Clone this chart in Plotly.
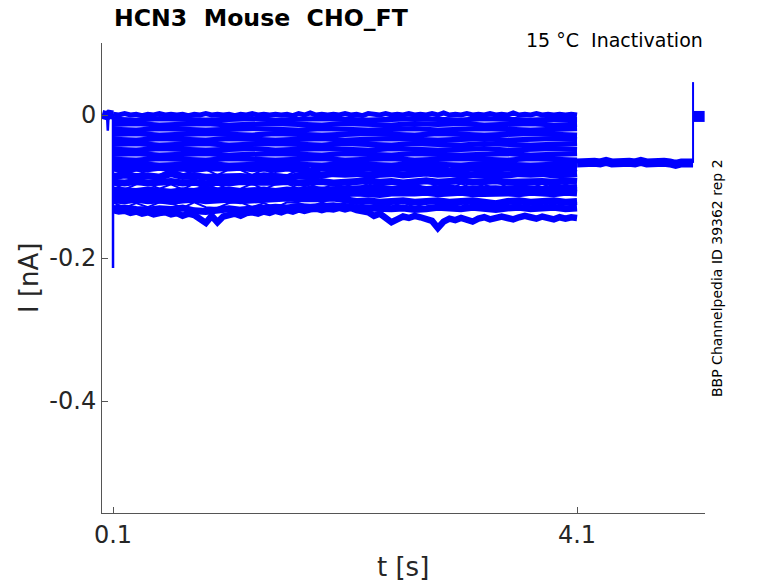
import plotly.graph_objects as go

BLUE = '#0000ff'
AXIS_COLOR = '#555555'

x_tick_vals = [0.1, 4.1]
x_tick_text = ['0.1', '4.1']
y_tick_vals = [0, -0.2, -0.4]
y_tick_text = ['0', '-0.2', '-0.4']

# before the step
t_pre = [0.005, 0.02, 0.035, 0.05, 0.065, 0.08, 0.09, 0.1]
i_pre = [0.001, 0.000, 0.002, -0.001, 0.001, 0.002, 0.000, 0.000]
t_dip = [0.05, 0.055, 0.06]
i_dip = [-0.005, -0.022, -0.005]
t_spike = [0.1, 0.1]
i_spike = [0.0, -0.214]

# time base of the step, every 0.2 s
t_coarse = [0.1, 0.3, 0.5, 0.7, 0.9, 1.1, 1.3, 1.5, 1.7, 1.9, 2.1,
            2.3, 2.5, 2.7, 2.9, 3.1, 3.3, 3.5, 3.7, 3.9, 4.1]

sweep_02 = [-0.006, -0.007, -0.005, -0.006, -0.007, -0.006, -0.005, -0.007, -0.006, -0.005, -0.006,
            -0.007, -0.006, -0.005, -0.006, -0.007, -0.005, -0.006, -0.007, -0.006, -0.006]
sweep_03 = [-0.013, -0.012, -0.014, -0.013, -0.012, -0.014, -0.013, -0.012, -0.013, -0.014, -0.012,
            -0.013, -0.014, -0.012, -0.013, -0.012, -0.014, -0.013, -0.012, -0.014, -0.013]
sweep_04 = [-0.020, -0.021, -0.019, -0.020, -0.021, -0.020, -0.019, -0.020, -0.021, -0.019, -0.020,
            -0.021, -0.020, -0.019, -0.021, -0.020, -0.019, -0.020, -0.021, -0.020, -0.019]
sweep_05 = [-0.027, -0.026, -0.028, -0.027, -0.026, -0.027, -0.028, -0.026, -0.027, -0.028, -0.027,
            -0.026, -0.027, -0.028, -0.026, -0.027, -0.028, -0.027, -0.026, -0.027, -0.028]
sweep_06 = [-0.034, -0.035, -0.033, -0.034, -0.035, -0.033, -0.034, -0.035, -0.034, -0.033, -0.035,
            -0.034, -0.033, -0.034, -0.035, -0.034, -0.033, -0.035, -0.034, -0.033, -0.034]
sweep_07 = [-0.041, -0.040, -0.042, -0.041, -0.040, -0.042, -0.041, -0.040, -0.041, -0.042, -0.040,
            -0.041, -0.042, -0.040, -0.041, -0.042, -0.040, -0.041, -0.042, -0.041, -0.040]
sweep_08 = [-0.048, -0.049, -0.047, -0.048, -0.049, -0.048, -0.047, -0.049, -0.048, -0.047, -0.048,
            -0.049, -0.047, -0.048, -0.049, -0.048, -0.047, -0.049, -0.048, -0.047, -0.048]
sweep_09 = [-0.055, -0.054, -0.056, -0.055, -0.054, -0.056, -0.055, -0.054, -0.055, -0.056, -0.054,
            -0.055, -0.056, -0.054, -0.055, -0.056, -0.055, -0.054, -0.056, -0.055, -0.054]
sweep_10 = [-0.062, -0.063, -0.061, -0.062, -0.063, -0.061, -0.062, -0.063, -0.062, -0.061, -0.063,
            -0.062, -0.061, -0.063, -0.062, -0.061, -0.062, -0.063, -0.061, -0.062, -0.063]
sweep_11 = [-0.069, -0.068, -0.070, -0.069, -0.068, -0.070, -0.069, -0.068, -0.069, -0.070, -0.068,
            -0.069, -0.070, -0.068, -0.069, -0.070, -0.068, -0.069, -0.070, -0.069, -0.068]

# sweeps either side of the pale gaps, every 0.1 s
t_fine = [0.1, 0.2, 0.3, 0.4, 0.5, 0.6, 0.7, 0.8, 0.9, 1.0, 1.1, 1.2, 1.3, 1.4,
          1.5, 1.6, 1.7, 1.8, 1.9, 2.0, 2.1, 2.2, 2.3, 2.4, 2.5, 2.6, 2.7, 2.8,
          2.9, 3.0, 3.1, 3.2, 3.3, 3.4, 3.5, 3.6, 3.7, 3.8, 3.9, 4.0, 4.1]
sweep_12 = [-0.074, -0.076, -0.074, -0.075, -0.073, -0.075, -0.074, -0.076, -0.074, -0.075,
            -0.074, -0.073, -0.075, -0.074, -0.076, -0.074, -0.075, -0.078, -0.074, -0.075,
            -0.076, -0.075, -0.074, -0.076, -0.075, -0.074, -0.076, -0.075, -0.074, -0.078,
            -0.075, -0.074, -0.076, -0.075, -0.074, -0.076, -0.074, -0.075, -0.076, -0.074, -0.075]
sweep_13 = [-0.086, -0.084, -0.086, -0.085, -0.087, -0.082, -0.086, -0.085, -0.087, -0.086,
            -0.085, -0.086, -0.087, -0.085, -0.086, -0.088, -0.085, -0.086, -0.084, -0.082,
            -0.083, -0.082, -0.084, -0.083, -0.082, -0.084, -0.083, -0.081, -0.083, -0.082,
            -0.084, -0.083, -0.082, -0.083, -0.084, -0.082, -0.083, -0.082, -0.084, -0.083, -0.082]
sweep_14 = [-0.094, -0.095, -0.093, -0.095, -0.094, -0.093, -0.095, -0.094, -0.096, -0.094,
            -0.095, -0.093, -0.094, -0.095, -0.094, -0.093, -0.095, -0.094, -0.093, -0.095,
            -0.094, -0.093, -0.092, -0.094, -0.093, -0.095, -0.093, -0.092, -0.094, -0.093,
            -0.092, -0.094, -0.093, -0.092, -0.094, -0.093, -0.092, -0.093, -0.094, -0.092, -0.093]
sweep_15 = [-0.105, -0.106, -0.107, -0.105, -0.106, -0.108, -0.106, -0.107, -0.104, -0.106,
            -0.105, -0.107, -0.106, -0.105, -0.107, -0.105, -0.106, -0.104, -0.105, -0.104,
            -0.103, -0.104, -0.103, -0.102, -0.104, -0.103, -0.102, -0.104, -0.103, -0.102,
            -0.104, -0.103, -0.102, -0.103, -0.104, -0.102, -0.103, -0.104, -0.102, -0.103, -0.102]
sweep_16 = [-0.112, -0.113, -0.111, -0.113, -0.112, -0.111, -0.113, -0.112, -0.114, -0.112,
            -0.111, -0.113, -0.112, -0.111, -0.112, -0.110, -0.111, -0.112, -0.110, -0.111,
            -0.110, -0.109, -0.110, -0.111, -0.109, -0.110, -0.109, -0.108, -0.110, -0.109,
            -0.108, -0.110, -0.109, -0.108, -0.109, -0.110, -0.108, -0.109, -0.110, -0.108, -0.109]
sweep_17 = [-0.119, -0.120, -0.118, -0.120, -0.119, -0.121, -0.119, -0.118, -0.120, -0.119,
            -0.118, -0.120, -0.119, -0.117, -0.118, -0.116, -0.117, -0.118, -0.117, -0.116,
            -0.119, -0.121, -0.120, -0.122, -0.121, -0.120, -0.122, -0.121, -0.120, -0.122,
            -0.121, -0.120, -0.122, -0.124, -0.121, -0.120, -0.122, -0.121, -0.120, -0.122, -0.121]
sweep_18 = [-0.131, -0.130, -0.132, -0.133, -0.131, -0.132, -0.130, -0.134, -0.135, -0.132,
            -0.131, -0.133, -0.131, -0.130, -0.129, -0.130, -0.128, -0.129, -0.128, -0.127,
            -0.129, -0.130, -0.131, -0.132, -0.131, -0.130, -0.132, -0.131, -0.129, -0.130,
            -0.131, -0.129, -0.130, -0.132, -0.130, -0.129, -0.131, -0.130, -0.129, -0.131, -0.130]

# excursions that break up the pale gaps
crossing_1 = [-0.076, -0.084, -0.077, -0.083, -0.084, -0.076, -0.083, -0.078, -0.076, -0.084,
              -0.076, -0.077, -0.084, -0.076, -0.083, -0.084, -0.077, -0.076, -0.083, -0.077,
              -0.084, -0.076, -0.083, -0.077, -0.084, -0.083, -0.076, -0.084, -0.077, -0.083,
              -0.076, -0.077, -0.084, -0.076, -0.083, -0.084, -0.077, -0.083, -0.076, -0.084, -0.077]
crossing_2 = [-0.096, -0.104, -0.097, -0.096, -0.103, -0.097, -0.104, -0.096, -0.103, -0.097,
              -0.104, -0.103, -0.096, -0.104, -0.097, -0.096, -0.103, -0.097, -0.104, -0.096,
              -0.097, -0.103, -0.096, -0.104, -0.103, -0.097, -0.096, -0.103, -0.097, -0.104,
              -0.096, -0.103, -0.097, -0.104, -0.096, -0.097, -0.103, -0.096, -0.104, -0.097, -0.103]
crossing_3 = [-0.122, -0.130, -0.123, -0.129, -0.122, -0.123, -0.130, -0.122, -0.129, -0.130,
              -0.123, -0.122, -0.129, -0.123, -0.130, -0.122, -0.123, -0.129, -0.122, -0.128,
              -0.123, -0.122, -0.129, -0.123, -0.128, -0.122, -0.129, -0.123, -0.122, -0.129,
              -0.123, -0.128, -0.122, -0.123, -0.129, -0.122, -0.128, -0.123, -0.129, -0.122, -0.123]

# edges of the band, every 0.05 s
t_edge = [0.1 + k * 0.05 for k in range(81)]
sweep_01 = [0.001, 0.000, 0.002, 0.000, 0.001, -0.001, 0.001, 0.000, 0.002, 0.000,
            0.001, 0.000, 0.001, -0.001, 0.001, 0.000, 0.002, 0.000, 0.001, 0.000,
            0.001, -0.001, 0.001, 0.000, 0.002, 0.000, 0.001, 0.000, 0.001, 0.000,
            0.001, -0.001, 0.002, 0.000, 0.003, 0.000, 0.001, 0.000, 0.001, 0.000,
            0.002, 0.000, 0.001, -0.001, 0.002, 0.001, 0.000, 0.002, 0.000, 0.001,
            0.000, 0.002, 0.000, 0.001, 0.000, 0.002, 0.000, 0.003, 0.000, 0.001,
            0.000, 0.002, 0.000, 0.001, 0.000, 0.002, 0.000, 0.001, 0.000, 0.003,
            0.000, 0.001, 0.000, 0.002, 0.000, 0.001, 0.000, 0.001, 0.000, 0.001, 0.000]
sweep_19 = [-0.133, -0.135, -0.134, -0.137, -0.135, -0.138, -0.136, -0.139, -0.137, -0.136,
            -0.139, -0.137, -0.141, -0.138, -0.140, -0.145, -0.151, -0.141, -0.150, -0.142,
            -0.140, -0.138, -0.141, -0.137, -0.136, -0.138, -0.135, -0.137, -0.134, -0.136,
            -0.133, -0.135, -0.132, -0.134, -0.132, -0.131, -0.133, -0.131, -0.132, -0.130,
            -0.132, -0.130, -0.133, -0.134, -0.136, -0.141, -0.138, -0.144, -0.150, -0.146,
            -0.142, -0.144, -0.141, -0.143, -0.145, -0.148, -0.158, -0.149, -0.145, -0.147,
            -0.144, -0.146, -0.149, -0.145, -0.143, -0.146, -0.144, -0.142, -0.144, -0.146,
            -0.143, -0.141, -0.143, -0.145, -0.142, -0.144, -0.146, -0.143, -0.145, -0.143, -0.144]

sweeps_coarse = [sweep_02, sweep_03, sweep_04, sweep_05, sweep_06, sweep_07, sweep_08, sweep_09, sweep_10, sweep_11]
sweeps_fine = [sweep_12, sweep_13, sweep_14, sweep_15, sweep_16, sweep_17, sweep_18]
crossings = [crossing_1, crossing_2, crossing_3]

# tail after the step
t_tail = [4.1, 4.15, 4.2, 4.25, 4.3, 4.35, 4.4, 4.45, 4.5, 4.55, 4.6, 4.65, 4.7, 4.75, 4.8, 4.85, 4.9, 4.95, 5.0, 5.05, 5.1]
i_tail = [-0.067, -0.066, -0.068, -0.066, -0.067, -0.065, -0.067, -0.066, -0.068, -0.066, -0.067,
          -0.065, -0.067, -0.066, -0.068, -0.066, -0.067, -0.069, -0.067, -0.066, -0.067]
t_tail_spike = [5.1, 5.1]
i_tail_spike = [-0.067, 0.046]

# back at holding
t_post = [5.1, 5.2]
i_post = [-0.002, -0.002]


fig = go.Figure()


def add_line(t, i, width):
    fig.add_trace(go.Scatter(x=t, y=i, mode='lines', showlegend=False,
                             line=dict(color=BLUE, width=width)))


for sweep in sweeps_coarse:
    add_line(t_coarse, sweep, 5.2)
for sweep in sweeps_fine:
    add_line(t_fine, sweep, 7)
for crossing in crossings:
    add_line(t_fine, crossing, 2)
add_line(t_edge, sweep_01, 5)
add_line(t_edge, sweep_19, 6.5)
add_line(t_pre, i_pre, 9)
add_line(t_dip, i_dip, 2.5)
add_line(t_spike, i_spike, 2.5)
add_line(t_tail, i_tail, 9)
add_line(t_tail_spike, i_tail_spike, 2)
add_line(t_post, i_post, 11)

# the page adds an 8 px body margin, so the plot area sits 8 px in
fig.update_layout(
    width=778, height=583, autosize=False,
    paper_bgcolor='white', plot_bgcolor='white',
    margin=dict(l=94, r=81, t=35, b=78),
    font=dict(family='DejaVu Sans', color='#262626'),
    title=dict(text='<b>HCN3  Mouse  CHO_FT</b>', x=106 / 778, xanchor='left',
               y=1 - 10 / 583, yanchor='middle', font=dict(size=23.6, color='black')),
    xaxis=dict(range=[0.005, 5.203], tickmode='array', tickvals=x_tick_vals, ticktext=x_tick_text,
               ticks='inside', ticklen=6, tickcolor=AXIS_COLOR, showline=True, linecolor=AXIS_COLOR,
               linewidth=1, showgrid=False, zeroline=False, tickfont=dict(size=24)),
    yaxis=dict(range=[-0.5566, 0.1007], tickmode='array', tickvals=y_tick_vals, ticktext=y_tick_text,
               ticks='inside', ticklen=6, tickcolor=AXIS_COLOR, showline=True, linecolor=AXIS_COLOR,
               linewidth=1, showgrid=False, zeroline=False, tickfont=dict(size=24)),
    annotations=[
        dict(text='t [s]', xref='paper', yref='paper', x=(402 - 101) / 603, y=-(567 - 513) / 470,
             xanchor='center', yanchor='middle', showarrow=False, font=dict(size=26)),
        dict(text='I [nA]', xref='paper', yref='paper', x=-(101 - 28) / 603, y=0.5,
             xanchor='center', yanchor='middle', textangle=-90, showarrow=False, font=dict(size=26)),
        dict(text='15 °C  Inactivation', xref='paper', yref='paper', x=1, y=1 + 3 / 470, xanchor='right',
             yanchor='middle', showarrow=False, font=dict(size=19, color='black')),
        dict(text='BBP Channelpedia ID 39362 rep 2', xref='paper', yref='paper', x=1 + 12 / 603, y=0.5,
             xanchor='center', yanchor='middle', textangle=-90, showarrow=False,
             font=dict(size=14, color='black')),
    ],
)

fig.write_html("out.html")
